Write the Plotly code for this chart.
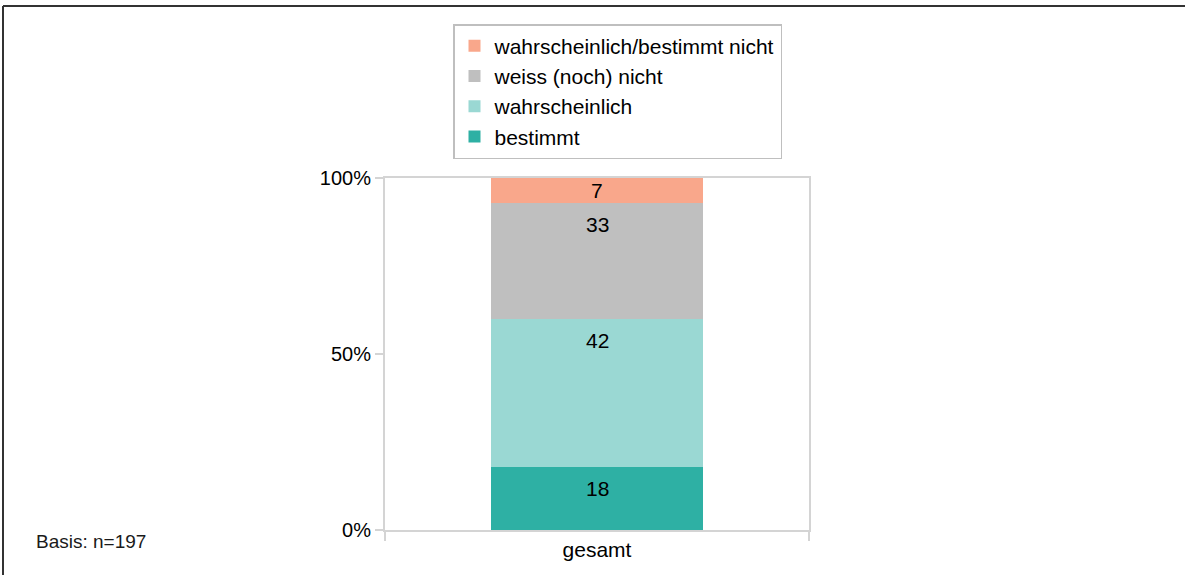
import plotly.graph_objects as go

# data
categories = ["gesamt"]
series_names = ["bestimmt", "wahrscheinlich", "weiss (noch) nicht", "wahrscheinlich/bestimmt nicht"]
series_values = [[18], [42], [33], [7]]
series_colors = ["#2eb0a4", "#9ad8d3", "#bfbfbf", "#f9a78b"]
y_tickvals = [0, 50, 100]
y_ticktext = ["0%", "50%", "100%"]
basis_text = "Basis: n=197"

W, H = 1185, 575
L, R, T, B = 385, 809, 178, 530  # plot area in pixels
pw, ph = R - L, B - T

def px_x(x):
    return (x - L) / pw

def px_y(y):
    return (B - y) / ph

font = "Liberation Sans, Arial, sans-serif"

fig = go.Figure()
for name, vals, col in zip(series_names, series_values, series_colors):
    fig.add_trace(go.Bar(x=categories, y=vals, name=name, marker=dict(color=col, line=dict(width=0)),
                         legendgroup=name, hoverinfo="name+y"))

# value labels, placed a little below each segment top
annotations = []
cum = 0
for vals in series_values:
    v = vals[0]
    top = cum + v
    off = min(22 / ph * 100, v / 2)
    annotations.append(dict(x=categories[0], y=top - off, xref="x", yref="y", text=str(v),
                            showarrow=False, font=dict(size=21, color="#000000", family=font)))
    cum = top

annotations.append(dict(x=px_x(34), y=px_y(541), xref="paper", yref="paper", text=basis_text,
                        xanchor="left", yanchor="middle", showarrow=False,
                        font=dict(size=19, color="#1a1a1a", family=font)))

shapes = [
    dict(type="line", xref="paper", yref="paper", x0=px_x(3), x1=px_x(1190), y0=px_y(6), y1=px_y(6),
         line=dict(color="#333333", width=2)),
    dict(type="line", xref="paper", yref="paper", x0=px_x(3), x1=px_x(3), y0=px_y(6), y1=px_y(580),
         line=dict(color="#333333", width=2)),
]

fig.update_layout(
    width=W, height=H,
    margin=dict(l=L, r=W - R, t=T, b=H - B),
    paper_bgcolor="white", plot_bgcolor="white",
    barmode="stack", bargap=0.5,
    font=dict(family=font, size=20, color="#000000"),
    showlegend=True,
    legend=dict(traceorder="reversed", x=px_x(453), y=px_y(24), xanchor="left", yanchor="top",
                bordercolor="#bfbfbf", borderwidth=1.5, bgcolor="white",
                font=dict(size=21, family=font), tracegroupgap=1, itemwidth=30),
    annotations=annotations,
    shapes=shapes,
    xaxis=dict(type="category", showline=True, linecolor="#d4d4d4", linewidth=2, mirror=True,
               ticks="outside", tickson="boundaries", ticklen=9, tickcolor="#d4d4d4", tickwidth=2,
               showgrid=False, tickfont=dict(size=21)),
    yaxis=dict(range=[0, 100], tickvals=y_tickvals, ticktext=y_ticktext, showline=True,
               linecolor="#d4d4d4", linewidth=2, mirror=True, ticks="outside", ticklen=8,
               tickcolor="#d4d4d4", tickwidth=2, showgrid=False, zeroline=False,
               tickfont=dict(size=20)),
)

# drop the default page margin so the figure sits at the window's corner
fig.write_html("out.html", config={"displayModeBar": False},
               post_script="document.body.style.margin='0';")
